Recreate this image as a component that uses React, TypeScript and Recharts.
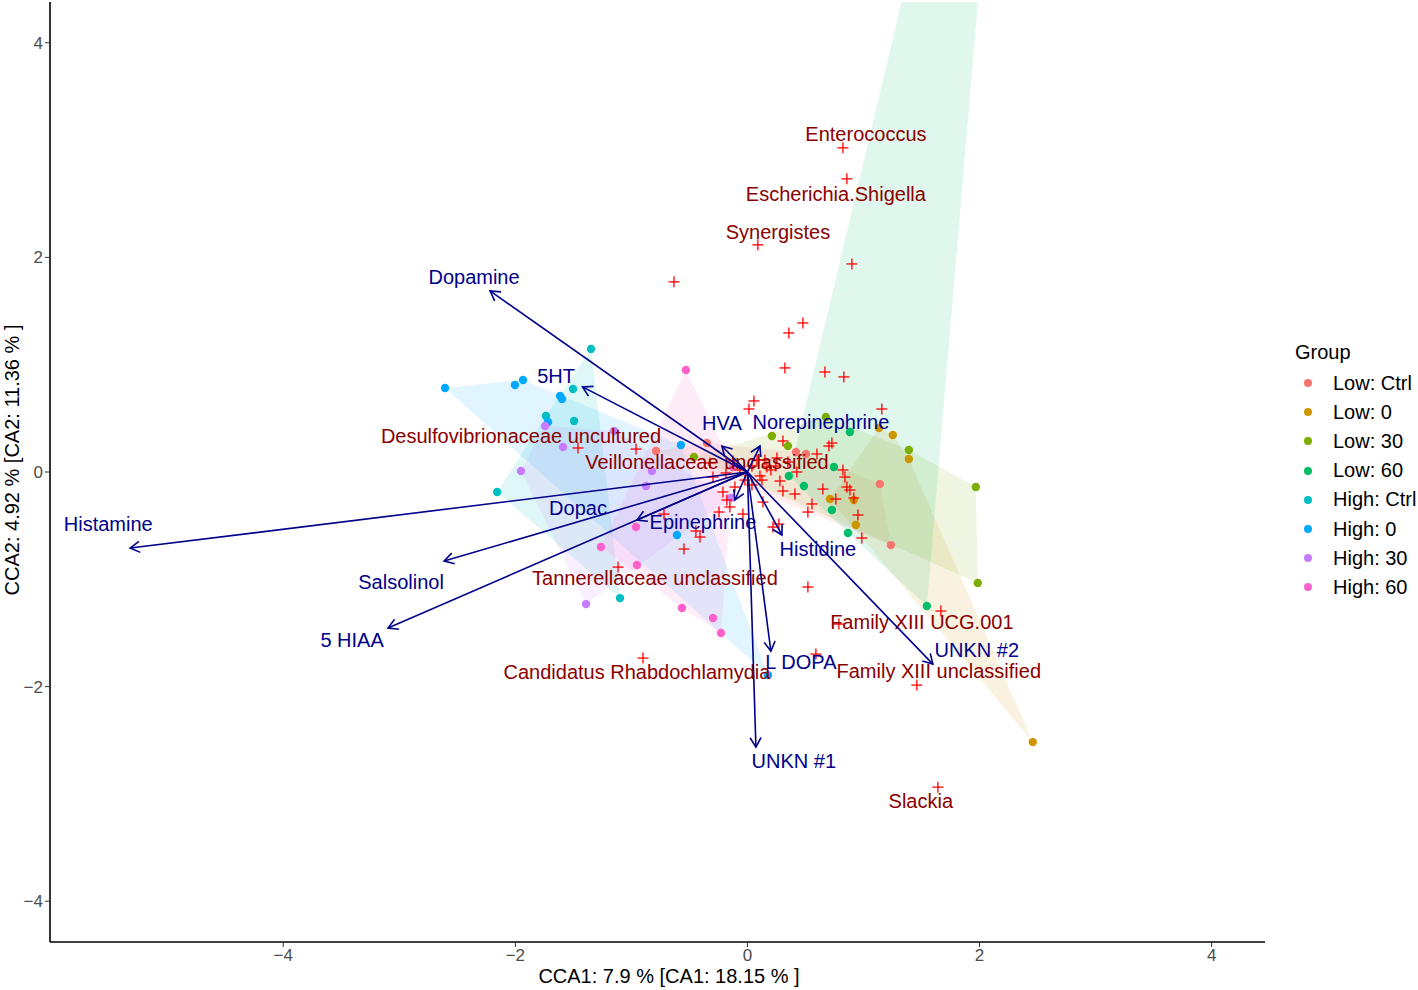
import React from 'react';
import { ScatterChart, Scatter, XAxis, YAxis } from 'recharts';

const FONT = '"Liberation Sans", Arial, Helvetica, sans-serif';

type P = { x: number; y: number };
type L = { name: string; x: number; y: number };

const groupNames = ['Low: Ctrl', 'Low: 0', 'Low: 30', 'Low: 60', 'High: Ctrl', 'High: 0', 'High: 30', 'High: 60'];
const groupColors = ['#F8766D', '#CD9600', '#7CAE00', '#00BE67', '#00BFC4', '#00A9FF', '#C77CFF', '#FF61CC'];

const lowCtrl: P[] = [
  { x: -0.788, y: 0.196 }, { x: -0.349, y: 0.27 }, { x: 0.418, y: 0.186 }, { x: 0.504, y: 0.168 },
  { x: 1.141, y: -0.112 }, { x: 1.236, y: -0.681 },
];
const low0: P[] = [
  { x: 1.133, y: 0.41 }, { x: 1.253, y: 0.345 }, { x: 1.391, y: 0.121 }, { x: 0.711, y: -0.252 },
  { x: 0.917, y: -0.261 }, { x: 0.934, y: -0.494 }, { x: 2.459, y: -2.517 },
];
const low30: P[] = [
  { x: -0.461, y: 0.14 }, { x: 0.211, y: 0.336 }, { x: 0.349, y: 0.242 }, { x: 0.676, y: 0.513 },
  { x: 1.391, y: 0.205 }, { x: 1.968, y: -0.14 }, { x: 1.985, y: -1.035 },
];
const low60: P[] = [
  { x: 0.357, y: -0.037 }, { x: 0.487, y: -0.131 }, { x: 0.745, y: 0.047 }, { x: 0.883, y: 0.373 },
  { x: 0.728, y: -0.354 }, { x: 0.866, y: -0.569 }, { x: 1.546, y: -1.249 }, { x: 2.35, y: 9.03 },
];
const highCtrl: P[] = [
  { x: -1.348, y: 1.147 }, { x: -1.503, y: 0.774 }, { x: -1.736, y: 0.522 }, { x: -1.494, y: 0.476 },
  { x: -2.157, y: -0.186 }, { x: -1.098, y: -1.175 },
];
const high0: P[] = [
  { x: -2.606, y: 0.783 }, { x: -2.003, y: 0.811 }, { x: -1.934, y: 0.858 }, { x: -1.615, y: 0.709 },
  { x: -1.598, y: 0.681 }, { x: -1.718, y: 0.466 }, { x: -0.573, y: 0.252 }, { x: -0.607, y: -0.587 },
  { x: 0.177, y: -1.893 },
];
const high30: P[] = [
  { x: -1.744, y: 0.429 }, { x: -1.589, y: 0.233 }, { x: -1.951, y: 0.009 }, { x: -1.15, y: 0.382 },
  { x: -0.823, y: 0.009 }, { x: -0.874, y: -0.131 }, { x: -1.391, y: -1.231 }, { x: -0.142, y: -0.242 },
];
const high60: P[] = [
  { x: -0.53, y: 0.951 }, { x: -0.96, y: -0.513 }, { x: -1.262, y: -0.699 }, { x: -0.952, y: -0.867 },
  { x: -0.564, y: -1.268 }, { x: -0.297, y: -1.361 }, { x: -0.228, y: -1.501 }, { x: -0.125, y: 0.047 },
];
const groupData: P[][] = [lowCtrl, low0, low30, low60, highCtrl, high0, high30, high60];

const speciesScores: P[] = [
  { x: 0.823, y: 3.021 }, { x: 0.857, y: 2.732 }, { x: 0.09, y: 2.117 }, { x: 0.9, y: 1.939 },
  { x: -0.633, y: 1.772 }, { x: 0.478, y: 1.389 }, { x: 0.357, y: 1.296 }, { x: 0.323, y: 0.97 },
  { x: 0.668, y: 0.932 }, { x: 0.831, y: 0.886 }, { x: 0.056, y: 0.662 }, { x: 0.013, y: 0.587 },
  { x: 1.158, y: 0.587 }, { x: 0.306, y: 0.289 }, { x: 0.728, y: 0.27 }, { x: 0.702, y: 0.242 },
  { x: 0.599, y: 0.168 }, { x: 0.254, y: 0.131 }, { x: 0.151, y: 0.112 }, { x: 0.168, y: 0.047 },
  { x: 0.426, y: 0.0 }, { x: 0.28, y: -0.084 }, { x: 0.306, y: -0.177 }, { x: 0.409, y: -0.205 },
  { x: 0.125, y: -0.075 }, { x: 0.65, y: -0.159 }, { x: 0.762, y: -0.252 }, { x: 0.823, y: 0.019 },
  { x: 0.84, y: -0.047 }, { x: 0.857, y: -0.14 }, { x: 0.883, y: -0.168 }, { x: 0.917, y: -0.242 },
  { x: 0.952, y: -0.401 }, { x: 0.986, y: -0.615 }, { x: 0.556, y: -0.298 }, { x: 0.521, y: -0.373 },
  { x: 0.22, y: -0.513 }, { x: 0.271, y: -0.485 }, { x: 0.134, y: -0.28 }, { x: -0.039, y: -0.392 },
  { x: -0.211, y: -0.186 }, { x: -0.108, y: -0.14 }, { x: -0.177, y: -0.261 }, { x: -0.151, y: -0.326 },
  { x: -0.245, y: -0.373 }, { x: -0.444, y: -0.55 }, { x: -0.409, y: -0.606 }, { x: -0.547, y: -0.718 },
  { x: -0.719, y: -0.392 }, { x: -0.297, y: -0.047 }, { x: -1.115, y: -0.886 }, { x: -1.46, y: 0.224 },
  { x: -0.96, y: 0.214 }, { x: 0.521, y: -1.072 }, { x: 0.59, y: -1.697 }, { x: -0.9, y: -1.734 },
  { x: 0.788, y: -1.417 }, { x: 1.667, y: -1.296 }, { x: 1.46, y: -1.986 }, { x: 1.641, y: -2.937 },
  { x: -0.065, y: 0.019 }, { x: 0.039, y: 0.056 }, { x: 0.108, y: -0.037 }, { x: -0.022, y: -0.075 },
  { x: 0.082, y: 0.112 }, { x: -0.125, y: 0.103 }, { x: 0.202, y: 0.019 }, { x: -0.185, y: -0.009 },
  { x: 0.039, y: -0.121 }, { x: -0.323, y: 0.084 }, { x: 0.349, y: 0.093 }, { x: 0.245, y: 0.056 },
];

const speciesLabels: L[] = [
  { name: 'Enterococcus', x: 1.021, y: 3.152 },
  { name: 'Escherichia.Shigella', x: 0.762, y: 2.592 },
  { name: 'Synergistes', x: 0.263, y: 2.238 },
  { name: 'Desulfovibrionaceae uncultured', x: -1.951, y: 0.336 },
  { name: 'Veillonellaceae unclassified', x: -0.349, y: 0.093 },
  { name: 'Tannerellaceae unclassified', x: -0.797, y: -0.988 },
  { name: 'Family XIII UCG.001', x: 1.503, y: -1.399 },
  { name: 'Candidatus Rhabdochlamydia', x: -0.952, y: -1.865 },
  { name: 'Family XIII unclassified', x: 1.649, y: -1.855 },
  { name: 'Slackia', x: 1.494, y: -3.068 },
];

const envVectors: L[] = [
  { name: 'Dopamine', x: -2.218, y: 1.688 },
  { name: '5HT', x: -1.421, y: 0.793 },
  { name: 'HVA', x: -0.22, y: 0.242 },
  { name: 'Norepinephrine', x: 0.108, y: 0.242 },
  { name: 'Histamine', x: -5.319, y: -0.709 },
  { name: 'Salsolinol', x: -2.614, y: -0.83 },
  { name: '5 HIAA', x: -3.097, y: -1.454 },
  { name: 'Dopac', x: -0.952, y: -0.448 },
  { name: 'Epinephrine', x: -0.108, y: -0.261 },
  { name: 'Histidine', x: 0.297, y: -0.587 },
  { name: 'L DOPA', x: 0.202, y: -1.669 },
  { name: 'UNKN #1', x: 0.073, y: -2.564 },
  { name: 'UNKN #2', x: 1.598, y: -1.79 },
];

const envLabels: L[] = [
  { name: 'Dopamine', x: -2.356, y: 1.818 },
  { name: '5HT', x: -1.649, y: 0.895 },
  { name: 'HVA', x: -0.22, y: 0.457 },
  { name: 'Norepinephrine', x: 0.633, y: 0.466 },
  { name: 'Histamine', x: -5.508, y: -0.485 },
  { name: 'Salsolinol', x: -2.985, y: -1.026 },
  { name: '5 HIAA', x: -3.407, y: -1.566 },
  { name: 'Dopac', x: -1.46, y: -0.336 },
  { name: 'Epinephrine', x: -0.383, y: -0.466 },
  { name: 'Histidine', x: 0.607, y: -0.718 },
  { name: 'L DOPA', x: 0.461, y: -1.772 },
  { name: 'UNKN #1', x: 0.4, y: -2.695 },
  { name: 'UNKN #2', x: 1.977, y: -1.66 },
];

const axisTicks = [-4, -2, 0, 2, 4];
const xTitle = 'CCA1: 7.9 % [CA1: 18.15 % ]';
const yTitle = 'CCA2: 4.92 % [CA2: 11.36 % ]';
const origin: P = { x: 0, y: 0 };

const fmt = (v: number) => (v < 0 ? '\u2212' + Math.abs(v) : String(v));

function convexHull(pts: { x: number; y: number }[]) {
  const p = pts.slice().sort((a, b) => (a.x === b.x ? a.y - b.y : a.x - b.x));
  if (p.length < 3) return p;
  const cross = (o: any, a: any, b: any) => (a.x - o.x) * (b.y - o.y) - (a.y - o.y) * (b.x - o.x);
  const lower: any[] = [];
  for (const q of p) {
    while (lower.length >= 2 && cross(lower[lower.length - 2], lower[lower.length - 1], q) <= 0) lower.pop();
    lower.push(q);
  }
  const upper: any[] = [];
  for (let i = p.length - 1; i >= 0; i--) {
    const q = p[i];
    while (upper.length >= 2 && cross(upper[upper.length - 2], upper[upper.length - 1], q) <= 0) upper.pop();
    upper.push(q);
  }
  upper.pop();
  lower.pop();
  return lower.concat(upper);
}

const hullLine = (color: string) => (props: any) => {
  const pts = (props.points || []).filter((q: any) => q && q.x != null && q.y != null);
  const hull = convexHull(pts);
  return (
    <polygon
      points={hull.map((q: any) => `${q.x},${q.y}`).join(' ')}
      fill={color}
      fillOpacity={0.12}
      stroke="none"
    />
  );
};

const ARROW = '#00008B';
const arrowLine = (props: any) => {
  const pts = props.points || [];
  if (pts.length < 2) return <g />;
  const a = pts[0];
  const b = pts[1];
  const ang = Math.atan2(b.y - a.y, b.x - a.x);
  const len = 11;
  const h = Math.PI / 6;
  const p1 = { x: b.x - len * Math.cos(ang - h), y: b.y - len * Math.sin(ang - h) };
  const p2 = { x: b.x - len * Math.cos(ang + h), y: b.y - len * Math.sin(ang + h) };
  return (
    <g>
      <line x1={a.x} y1={a.y} x2={b.x} y2={b.y} stroke={ARROW} strokeWidth={1.6} />
      <polyline
        points={`${p1.x},${p1.y} ${b.x},${b.y} ${p2.x},${p2.y}`}
        fill="none"
        stroke={ARROW}
        strokeWidth={1.6}
        strokeLinejoin="miter"
      />
    </g>
  );
};

const empty = () => <g />;
const dotShape = (color: string) => (p: any) => <circle cx={p.cx} cy={p.cy} r={4.2} fill={color} />;
const crossShape = (p: any) => (
  <g>
    <line x1={p.cx - 5.5} y1={p.cy} x2={p.cx + 5.5} y2={p.cy} stroke="#FF0000" strokeWidth={1.3} />
    <line x1={p.cx} y1={p.cy - 5.5} x2={p.cx} y2={p.cy + 5.5} stroke="#FF0000" strokeWidth={1.3} />
  </g>
);
const textShape = (color: string) => (p: any) => (
  <text
    x={p.cx}
    y={p.cy}
    textAnchor="middle"
    dominantBaseline="central"
    fill={color}
    fontSize={20}
    fontFamily={FONT}
  >
    {p.payload && p.payload.name}
  </text>
);

const tickStyle = { fill: '#4D4D4D', fontSize: 17, fontFamily: FONT };

export default function App() {
  return (
    <div style={{ position: 'absolute', left: 0, top: 0, width: 1418, height: 990, background: '#fff', fontFamily: FONT }}>
      <ScatterChart width={1418} height={990} margin={{ top: 2, right: 153, bottom: 0, left: 0 }}>
        <XAxis
          type="number"
          dataKey="x"
          domain={[-6.01, 4.46]}
          ticks={axisTicks}
          allowDataOverflow
          height={48}
          tick={tickStyle}
          tickSize={5}
          tickLine={{ stroke: '#333333' }}
          axisLine={{ stroke: '#000', strokeWidth: 1.6 }}
          tickFormatter={fmt}
          interval={0}
        />
        <YAxis
          type="number"
          dataKey="y"
          domain={[-4.38, 4.38]}
          ticks={axisTicks}
          allowDataOverflow
          width={50}
          tick={tickStyle}
          tickSize={5}
          tickLine={{ stroke: '#333333' }}
          axisLine={{ stroke: '#000', strokeWidth: 1.6 }}
          tickFormatter={fmt}
          interval={0}
        />
        {groupData.map((d, i) => (
          <Scatter
            key={'hull' + i}
            data={d}
            line={hullLine(groupColors[i])}
            lineType="joint"
            shape={empty}
            isAnimationActive={false}
          />
        ))}
        {groupData.map((d, i) => (
          <Scatter key={'pts' + i} data={d} shape={dotShape(groupColors[i])} isAnimationActive={false} />
        ))}
        <Scatter data={speciesScores} shape={crossShape} isAnimationActive={false} />
        <Scatter data={speciesLabels} shape={textShape('#8B0000')} isAnimationActive={false} />
        {envVectors.map((v, i) => (
          <Scatter
            key={'arr' + i}
            data={[origin, { x: v.x, y: v.y }]}
            line={arrowLine}
            lineType="joint"
            shape={empty}
            isAnimationActive={false}
          />
        ))}
        <Scatter data={envLabels} shape={textShape(ARROW)} isAnimationActive={false} />
      </ScatterChart>

      <div
        style={{
          position: 'absolute',
          left: 669,
          top: 976,
          transform: 'translate(-50%, -50%)',
          fontSize: 20,
          color: '#000',
          whiteSpace: 'nowrap',
        }}
      >
        {xTitle}
      </div>
      <div
        style={{
          position: 'absolute',
          left: 12,
          top: 460,
          transform: 'translate(-50%, -50%) rotate(-90deg)',
          fontSize: 20,
          color: '#000',
          whiteSpace: 'nowrap',
        }}
      >
        {yTitle}
      </div>

      <div style={{ position: 'absolute', left: 1295, top: 339, fontSize: 20, color: '#000', lineHeight: '26px' }}>
        Group
      </div>
      {groupNames.map((n, i) => (
        <div
          key={n}
          style={{ position: 'absolute', left: 1300, top: 370 + i * 29.2, height: 26, display: 'flex', alignItems: 'center' }}
        >
          <span
            style={{ display: 'inline-block', width: 8, height: 8, borderRadius: 4, background: groupColors[i], marginRight: 0, marginLeft: 4 }}
          />
          <span style={{ marginLeft: 21, fontSize: 20, color: '#000', whiteSpace: 'nowrap' }}>{n}</span>
        </div>
      ))}
    </div>
  );
}
